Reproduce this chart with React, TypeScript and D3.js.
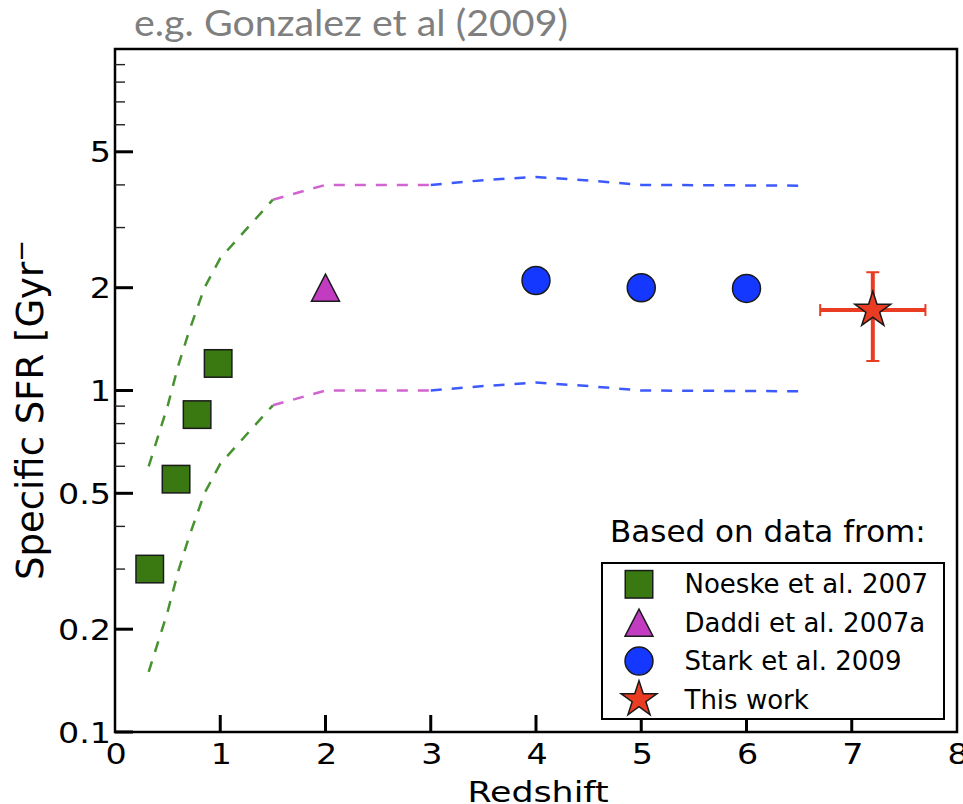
import React from 'react';
import * as d3 from 'd3';

const W = 963;
const H = 804;

// ---- data ----
const noeskeZ = [0.33, 0.58, 0.78, 0.98];
const noeskeS = [0.3, 0.55, 0.85, 1.2];
const daddiZ = [2.0];
const daddiS = [2.0];
const starkZ = [4.0, 5.0, 6.0];
const starkS = [2.1, 2.0, 1.99];
const thisZ = [7.2];
const thisS = [1.72];
const thisZErr = [0.5];
const thisSErrLow = [0.5];
const thisSErrHigh = [0.5];

const modelZ = [0.32, 0.5, 0.6, 0.7, 0.85, 1.0, 1.5, 2.0, 3.0, 3.5, 4.0, 4.5, 5.0, 6.5];
const modelUpper = [0.6, 0.9, 1.18, 1.48, 2.0, 2.44, 3.62, 4.0, 4.0, 4.13, 4.22, 4.12, 4.0, 3.98];
const modelLower = [0.15, 0.225, 0.295, 0.37, 0.5, 0.61, 0.905, 1.0, 1.0, 1.03, 1.055, 1.03, 1.0, 0.995];
const segmentRanges: [number, number][] = [[0, 1.5], [1.5, 3.0], [3.0, 10]];
const segmentColors = ['#46922e', '#d264d2', '#3c5aff'];

const xTicks = [0, 1, 2, 3, 4, 5, 6, 7, 8];
const xTickLabels = ['0', '1', '2', '3', '4', '5', '6', '7', '8'];
const yMajor = [0.1, 0.2, 0.5, 1, 2, 5];
const yMajorLabels = ['0.1', '0.2', '0.5', '1', '2', '5'];
const yMinor = [0.3, 0.4, 0.6, 0.7, 0.8, 0.9, 3, 4, 6, 7, 8, 9];

const legendLabels = ['Noeske et al. 2007', 'Daddi et al. 2007a', 'Stark et al. 2009', 'This work'];

const titleText = 'e.g. Gonzalez et al (2009)';

const GREEN = '#3a7812';
const MAGENTA = '#c23cc2';
const BLUE = '#1438ff';
const RED = '#ea3c22';
const FONT = "'DejaVu Sans', sans-serif";

const x = d3.scaleLinear().domain([0, 8]).range([115, 957]);
const y = d3.scaleLog().domain([0.1, 10]).range([732, 49]);

const starPath = d3.symbol().type(d3.symbolStar).size(400)()!;

function Square({ cx, cy }: { cx: number; cy: number }) {
  const s = 27.5;
  return <rect x={cx - s / 2} y={cy - s / 2} width={s} height={s} fill={GREEN} stroke="#1a1a1a" strokeWidth={1.5} />;
}
function Tri({ cx, cy }: { cx: number; cy: number }) {
  const w = 28, h = 27;
  const d = `M${cx},${cy - h / 2}L${cx - w / 2},${cy + h / 2}L${cx + w / 2},${cy + h / 2}Z`;
  return <path d={d} fill={MAGENTA} stroke="#1a1a1a" strokeWidth={1.5} strokeLinejoin="miter" />;
}
function Circ({ cx, cy }: { cx: number; cy: number }) {
  return <circle cx={cx} cy={cy} r={14} fill={BLUE} stroke="#1a1a1a" strokeWidth={1.5} />;
}
function Star({ cx, cy }: { cx: number; cy: number }) {
  return <path d={starPath} transform={`translate(${cx},${cy})`} fill={RED} stroke="#1a1a1a" strokeWidth={1.5} />;
}

const TICK_SX = 1.15;

export default function App() {
  const line = d3
    .line<[number, number]>()
    .x((d) => x(d[0]))
    .y((d) => y(d[1]));

  const envelopes = [modelUpper, modelLower];
  const modelPaths: { d: string; color: string }[] = [];
  envelopes.forEach((vals) => {
    segmentRanges.forEach(([lo, hi], i) => {
      const pts: [number, number][] = [];
      modelZ.forEach((z, k) => {
        if (z >= lo && z <= hi) pts.push([z, vals[k]]);
      });
      if (pts.length > 1) modelPaths.push({ d: line(pts)!, color: segmentColors[i] });
    });
  });

  const legendX = 639;
  const legendBase0 = 593.3;
  const legendStep = 38.4;

  return (
    <svg width={W} height={H} style={{ position: 'absolute', left: 0, top: 0, background: '#fff' }}>
      <rect x={0} y={0} width={W} height={H} fill="#fff" />
      {/* title */}
      <text x={134} y={36} fill="#7f7f7f" fontFamily="Lato, 'Open Sans', sans-serif" fontSize={37} textLength={434} lengthAdjust="spacingAndGlyphs">
        {titleText}
      </text>

      {/* model envelopes */}
      {modelPaths.map((p, i) => (
        <path key={i} d={p.d} fill="none" stroke={p.color} strokeWidth={2.5} strokeDasharray="11,10" />
      ))}

      {/* data points */}
      {noeskeZ.map((z, i) => (
        <Square key={'n' + i} cx={x(z)} cy={y(noeskeS[i])} />
      ))}
      {daddiZ.map((z, i) => (
        <Tri key={'d' + i} cx={x(z)} cy={y(daddiS[i])} />
      ))}
      {starkZ.map((z, i) => (
        <Circ key={'s' + i} cx={x(z)} cy={y(starkS[i])} />
      ))}
      {thisZ.map((z, i) => {
        const cy = y(thisS[i]);
        const x0 = x(z - thisZErr[i]);
        const x1 = x(z + thisZErr[i]);
        const y0 = y(thisS[i] - thisSErrLow[i]);
        const y1 = y(thisS[i] + thisSErrHigh[i]);
        const cx = x(z);
        return (
          <g key={'t' + i}>
            <line x1={x0} x2={x1} y1={cy} y2={cy} stroke={RED} strokeWidth={4} />
            <line x1={cx} x2={cx} y1={y0} y2={y1} stroke={RED} strokeWidth={4} />
            <line x1={x0} x2={x0} y1={cy - 6} y2={cy + 6} stroke={RED} strokeWidth={2} />
            <line x1={x1} x2={x1} y1={cy - 6} y2={cy + 6} stroke={RED} strokeWidth={2} />
            <line x1={cx - 6.5} x2={cx + 6.5} y1={y0} y2={y0} stroke={RED} strokeWidth={2} />
            <line x1={cx - 6.5} x2={cx + 6.5} y1={y1} y2={y1} stroke={RED} strokeWidth={2} />
            <Star cx={cx} cy={cy} />
          </g>
        );
      })}

      {/* axes frame */}
      <rect x={x(0)} y={y(10)} width={x(8) - x(0)} height={y(0.1) - y(10)} fill="none" stroke="#000" strokeWidth={2.5} />

      {/* y ticks */}
      {yMinor.map((v) => (
        <line key={'ym' + v} x1={x(0)} x2={x(0) + 10} y1={y(v)} y2={y(v)} stroke="#222" strokeWidth={1.4} />
      ))}
      {yMajor.map((v, i) => (
        <g key={'yM' + v}>
          <line x1={x(0)} x2={x(0) + 18} y1={y(v)} y2={y(v)} stroke="#000" strokeWidth={3} />
          <text
            transform={`translate(${x(0) - 4},${y(v) + 10.6}) scale(${TICK_SX},1)`}
            textAnchor="end"
            fontFamily={FONT}
            fontSize={29}
            fill="#000"
          >
            {yMajorLabels[i]}
          </text>
        </g>
      ))}

      {/* x ticks */}
      {xTicks.map((v, i) => (
        <g key={'x' + v}>
          {v > 0 && v < 8 && <line x1={x(v)} x2={x(v)} y1={y(0.1)} y2={y(0.1) - 17} stroke="#000" strokeWidth={3} />}
          <text
            transform={`translate(${x(v) + 1},763.5) scale(${TICK_SX},1)`}
            textAnchor="middle"
            fontFamily={FONT}
            fontSize={29}
            fill="#000"
          >
            {xTickLabels[i]}
          </text>
        </g>
      ))}

      {/* axis labels */}
      <text
        transform={`translate(${(x(0) + x(8)) / 2 + 2},801.5) scale(1.2,1)`}
        textAnchor="middle"
        fontFamily={FONT}
        fontSize={29}
        fill="#000"
      >
        Redshift
      </text>
      <text transform="translate(43,580) rotate(-90)" fontFamily={FONT} fontSize={37} fill="#000">
        Specific SFR [Gyr
        <tspan fontSize={26} dy={-13}>−</tspan>
      </text>

      {/* legend */}
      <text x={610} y={541.7} fontFamily={FONT} fontSize={31} fill="#000">
        Based on data from:
      </text>
      <rect x={602} y={563} width={342} height={156} fill="#fff" stroke="#000" strokeWidth={2} />
      <Square cx={legendX} cy={legendBase0 - 9} />
      <Tri cx={legendX} cy={legendBase0 + legendStep - 9} />
      <Circ cx={legendX} cy={legendBase0 + 2 * legendStep - 9} />
      <Star cx={legendX} cy={legendBase0 + 3 * legendStep - 9} />
      {legendLabels.map((l, i) => (
        <text key={l} x={684.5} y={legendBase0 + i * legendStep} fontFamily={FONT} fontSize={26} fill="#000">
          {l}
        </text>
      ))}
    </svg>
  );
}
